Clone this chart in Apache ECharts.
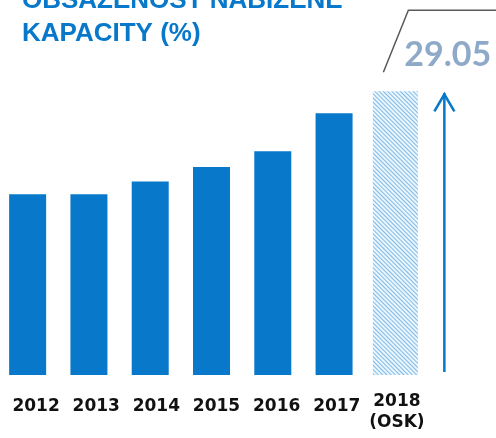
<!DOCTYPE html>
<html>
<head>
    <meta charset="utf-8">
    <script src="https://cdnjs.cloudflare.com/ajax/libs/echarts/6.0.0/echarts.min.js"></script>
    <style>
        body { margin: 0; background: #fff; }
    </style>
</head>
<body>
<div id="main" style="width: 496px;height:438px;"></div>
<script type="text/javascript">
    // data
    var years = ['2012', '2013', '2014', '2015', '2016', '2017', '2018\n(OSK)'];
    var actual = [18.5, 18.5, 19.8, 21.3, 22.9, 26.8, '-'];
    var forecast = ['-', '-', '-', '-', '-', '-', 29.05];

    var blue = '#0778ca';
    var myChart = echarts.init(document.getElementById('main'));

    myChart.setOption({
        animation: false,
        title: {
            text: 'OBSAZENOST NABÍZENÉ\nKAPACITY (%)',
            left: 17,
            top: -21,
            textStyle: {
                color: blue,
                fontFamily: 'Liberation Sans',
                fontWeight: 'bold',
                fontSize: 26,
                lineHeight: 33
            }
        },
        grid: [
            {left: -3, width: 429, top: 82, bottom: 63, outerBoundsMode: 'none', containLabel: false},
            {left: 6, width: 421, top: 82, bottom: 63, outerBoundsMode: 'none', containLabel: false}
        ],
        xAxis: [
            {
                type: 'category', gridIndex: 0, data: years,
                axisLine: {show: false}, axisTick: {show: false}, axisLabel: {show: false}
            },
            {
                type: 'category', gridIndex: 0, data: years,
                axisLine: {show: false}, axisTick: {show: false}, axisLabel: {show: false}
            },
            {
                type: 'category', gridIndex: 1,
                data: years.map(function (y, i) {
                    return i == years.length - 1 ? {value: y, textStyle: {padding: [0, 0, 0, 0]}} : y;
                }),
                axisLine: {show: false}, axisTick: {show: false},
                axisLabel: {
                    margin: 16,
                    padding: [5, 0, 0, 0],
                    color: '#111',
                    fontFamily: 'DejaVu Sans',
                    fontWeight: 'bold',
                    fontSize: 17,
                    lineHeight: 21,
                    interval: 0
                }
            }
        ],
        yAxis: [
            {type: 'value', gridIndex: 0, min: 0, max: 30, show: false, splitLine: {show: false}},
            {type: 'value', gridIndex: 1, min: 0, max: 30, show: false, splitLine: {show: false}}
        ],
        series: [
            {
                name: 'actual',
                type: 'bar',
                xAxisIndex: 0,
                yAxisIndex: 0,
                barWidth: 37,
                data: actual,
                itemStyle: {color: blue}
            },
            {
                name: 'forecast',
                type: 'bar',
                xAxisIndex: 1,
                yAxisIndex: 0,
                barWidth: 45,
                data: forecast,
                itemStyle: {
                    color: '#eaf5fc',
                    decal: {
                        symbol: 'rect',
                        symbolSize: 1,
                        color: '#80bbe8',
                        dashArrayX: [[1, 0]],
                        dashArrayY: [1, 2],
                        rotation: Math.PI / 4
                    }
                }
            },
            {
                type: 'bar',
                xAxisIndex: 2,
                yAxisIndex: 1,
                data: []
            }
        ]
    });

    // annotations: bracket, value text and arrow next to the forecast bar
    var last = years.length - 1;
    var cx = myChart.convertToPixel({xAxisIndex: 1}, last);
    var y0 = myChart.convertToPixel({yAxisIndex: 0}, 0);
    var yTop = myChart.convertToPixel({yAxisIndex: 0}, forecast[last]);
    var ax = cx + 49;

    myChart.setOption({
        graphic: [
            {
                type: 'polyline',
                shape: {points: [[cx - 12, yTop - 19], [cx + 13, yTop - 81], [496, yTop - 81]]},
                style: {stroke: '#595959', lineWidth: 1.5, fill: null}
            },
            {
                type: 'text',
                left: cx + 9,
                top: yTop - 53,
                style: {
                    text: forecast[last].toFixed(2),
                    fill: '#8fa9c9',
                    font: 'bold 34px Lato'
                }
            },
            {
                type: 'line',
                shape: {x1: ax, y1: y0 - 3, x2: ax, y2: yTop + 2},
                style: {stroke: blue, lineWidth: 2.5}
            },
            {
                type: 'polyline',
                shape: {points: [[ax - 10, yTop + 20], [ax, yTop + 3], [ax + 10, yTop + 20]]},
                style: {stroke: blue, lineWidth: 2.5, fill: null}
            }
        ]
    });
</script>
</body>
</html>
